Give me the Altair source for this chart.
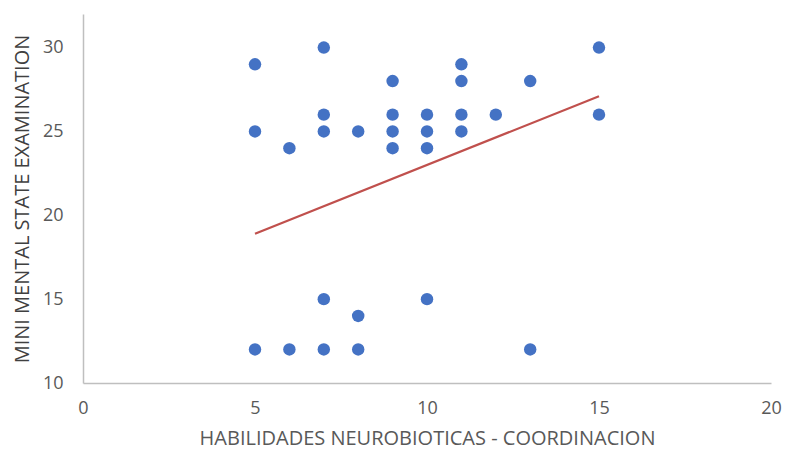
import altair as alt
import pandas as pd

# Scatter data
x_vals = [5, 5, 5, 6, 6, 7, 7, 7, 7, 7, 8, 8, 8, 9, 9, 9, 9,
          10, 10, 10, 10, 11, 11, 11, 11, 12, 13, 13, 15, 15]
y_vals = [29, 25, 12, 24, 12, 30, 26, 25, 15, 12, 25, 14, 12, 28, 26, 25, 24,
          26, 25, 24, 15, 29, 28, 26, 25, 26, 28, 12, 30, 26]

# Trend line endpoints
trend_x = [5, 15]
trend_y = [18.9, 27.1]

x_title = "HABILIDADES NEUROBIOTICAS - COORDINACION"
y_title = "MINI MENTAL STATE EXAMINATION"

pts = pd.DataFrame({"x": x_vals, "y": y_vals})
trend = pd.DataFrame({"x": trend_x, "y": trend_y})

FONT = "Open Sans"
GREY = "#595959"

xs = alt.Scale(domain=[0, 20], nice=False, zero=False)
ys = alt.Scale(domain=[10, 32], nice=False, zero=False)

xaxis = alt.Axis(title=x_title, values=[0, 5, 10, 15, 20], grid=False, ticks=False,
                 labelFlush=False, labelOverlap=False,
                 domainColor="#BFBFBF", domainWidth=1.5, labelFont=FONT, labelFontSize=18,
                 labelColor=GREY, labelPadding=16, titleFont=FONT, titleFontSize=20,
                 titleFontWeight="normal", titleColor=GREY, titlePadding=11)
yaxis = alt.Axis(title=y_title, values=[10, 15, 20, 25, 30], grid=False, ticks=False,
                 labelFlush=False, labelOverlap=False,
                 domainColor="#BFBFBF", domainWidth=1.5, labelFont=FONT, labelFontSize=18,
                 labelColor=GREY, labelPadding=20, titleFont=FONT, titleFontSize=20,
                 titleFontWeight="normal", titleColor="#404040", titlePadding=10)

points = alt.Chart(pts).mark_circle(size=155, color="#4472C4", opacity=1).encode(
    x=alt.X("x:Q", scale=xs, axis=xaxis),
    y=alt.Y("y:Q", scale=ys, axis=yaxis),
)

line = alt.Chart(trend).mark_line(color="#C0504D", strokeWidth=2.2).encode(
    x=alt.X("x:Q", scale=xs),
    y=alt.Y("y:Q", scale=ys),
)

chart = alt.layer(points, line).properties(
    width=688, height=369,
    padding={"left": 83, "top": 14, "right": 19, "bottom": 71},
    autosize=alt.AutoSizeParams(type="none"),
    background="white",
).configure_view(stroke=None)

chart.save("out.html", embed_options={"renderer": "svg", "actions": False})
